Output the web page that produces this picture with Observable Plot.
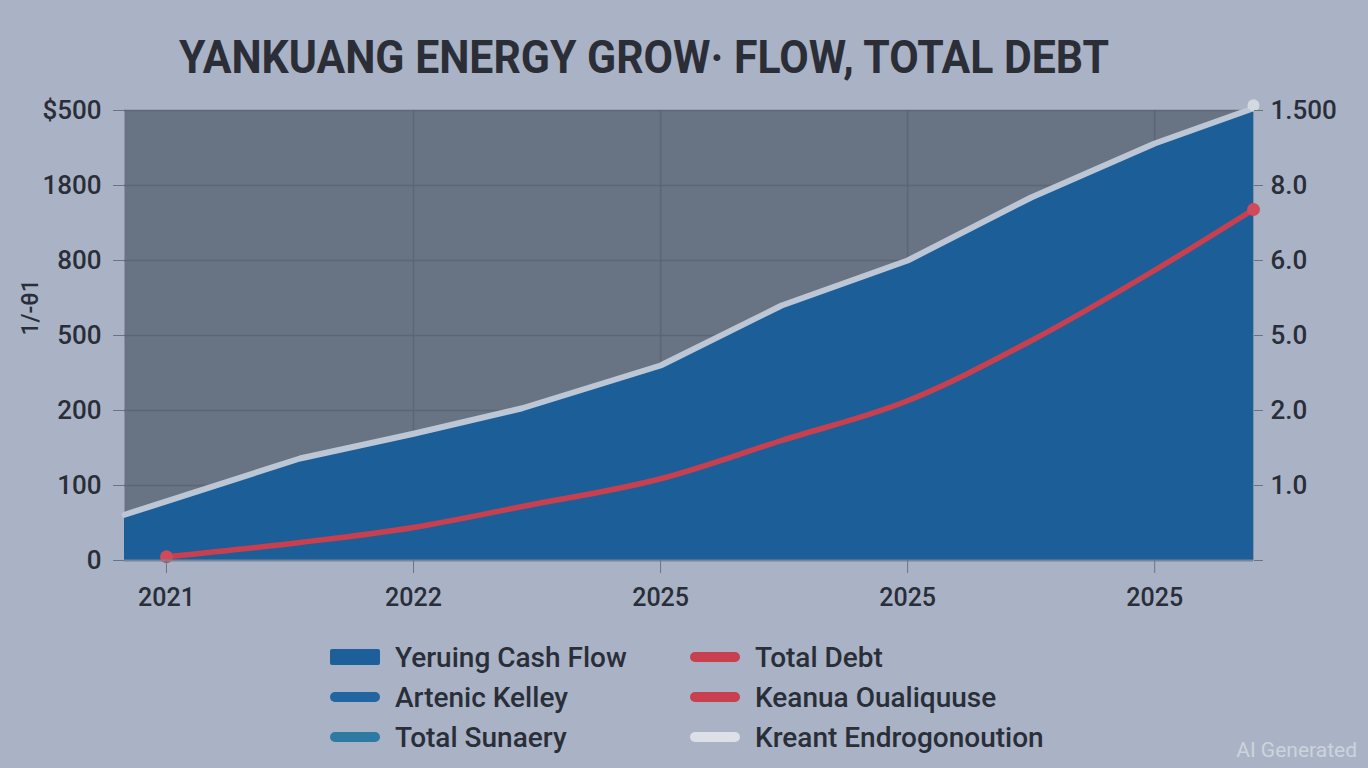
<!DOCTYPE html>
<html>
<head>
<meta charset="utf-8">
<script src="https://cdn.jsdelivr.net/npm/d3@7"></script>
<script src="https://cdn.jsdelivr.net/npm/@observablehq/plot@0.6"></script>
<style>
  html, body { margin: 0; padding: 0; background: #a9b3c5; }
  #page { position: relative; width: 1368px; height: 768px; overflow: hidden; background: #a9b3c5; font-family: Roboto, "Liberation Sans", sans-serif; color: #2a2e38; }
  #title { display: block; width: 1368px; height: 90px; }
  #chart svg { display: block; }
  #legend { position: relative; width: 1368px; height: 148px; }
  .item { position: absolute; display: flex; align-items: center; height: 40px; font-size: 28px; font-weight: 500; white-space: nowrap; }
  .sw { width: 50px; margin-right: 15px; border-radius: 6px; }
  #wm { position: absolute; right: 11px; bottom: 6px; font-size: 21px; color: #cdd3dc; font-family: Roboto, sans-serif; }
</style>
</head>
<body>
<div id="page">
  <svg id="title" width="1368" height="90"></svg>
  <div id="chart"></div>
  <div id="legend"></div>
  <div id="wm">AI Generated</div>
</div>
<script>
// ---- data ----
const titleText = "YANKUANG ENERGY GROW\u00B7 FLOW, TOTAL DEBT";
const yAxisLabel = "1/-\u03B81";
const xTickPos = [0, 1, 2, 3, 4];
const xTickLabels = ["2021", "2022", "2025", "2025", "2025"];
const leftTickPos = [0, 1, 2, 3, 4, 5, 6];
const leftTickLabels = ["0", "100", "200", "500", "800", "1800", "$500"];
const rightTickPos = [0, 1, 2, 3, 4, 5, 6];
const rightTickLabels = ["", "1.0", "2.0", "5.0", "6.0", "8.0", "1.500"];
const cashX = [-0.17, 0.54, 1, 1.44, 2, 2.49, 3, 3.5, 4, 4.4];
const cashFlow = [0.61, 1.36, 1.69, 2.03, 2.6, 3.4, 4.0, 4.84, 5.56, 6.03];
const debtX = [0, 0.54, 1, 1.44, 2, 2.49, 3, 3.5, 4, 4.4];
const totalDebt = [0.05, 0.24, 0.44, 0.72, 1.09, 1.6, 2.13, 2.93, 3.87, 4.68];
const legendNames = ["Yeruing Cash Flow", "Artenic Kelley", "Total Sunaery", "Total Debt", "Keanua Oualiquuse", "Kreant Endrogonoution"];
const legendColors = ["#1d5f98", "#2265a0", "#2f7aa2", "#c8404f", "#c8404f", "#dde0e7"];

// ---- colours ----
const C = { bg: "#a9b3c5", plot: "#687383", grid: "#5b6575", blue: "#1c5f98", white: "#bcc6d5", red: "#c8404f", text: "#2a2e38", tick: "#6b7484" };

// title
const ts = d3.select("#title");
ts.append("text").attr("x", 644).attr("y", 73).attr("text-anchor", "middle")
  .attr("font-family", "Roboto, sans-serif").attr("font-weight", 700).attr("font-size", 46)
  .attr("fill", "#2b2e37").attr("textLength", 930).attr("lengthAdjust", "spacingAndGlyphs")
  .text(titleText);

const cash = cashX.map((x, i) => ({x, y: cashFlow[i]}));
const debt = debtX.map((x, i) => ({x, y: totalDebt[i]}));

const chart = Plot.plot({
  width: 1368,
  height: 530,
  marginTop: 20,
  marginBottom: 60,
  marginLeft: 124,
  marginRight: 115,
  style: { background: "transparent", fontFamily: "Roboto, sans-serif", fontWeight: 500, overflow: "visible" },
  x: { domain: [-0.17, 4.4], axis: null },
  y: { domain: [0, 6], axis: null },
  marks: [
    Plot.frame({ fill: C.plot, stroke: "none" }),
    Plot.gridY(leftTickPos.slice(1), { stroke: C.grid, strokeOpacity: 0.9, strokeWidth: 1.5 }),
    Plot.gridX(xTickPos.slice(1), { stroke: C.grid, strokeOpacity: 0.9, strokeWidth: 1.5 }),
    Plot.areaY(cash, { x: "x", y: "y", fill: C.blue }),
    Plot.lineY(cash, { x: "x", y: "y", stroke: C.white, strokeWidth: 6 }),
    Plot.dot(cash.slice(-1), { x: "x", y: "y", r: 6, fill: "#d3d8e1", dy: -3 }),
    Plot.lineY(debt, { x: "x", y: "y", stroke: C.red, strokeWidth: 5.5, curve: "monotone-x" }),
    Plot.dot([debt[0], debt[debt.length - 1]], { x: "x", y: "y", r: 6.5, fill: "#d04a59" }),
    Plot.ruleY([0], { stroke: "#7a8494", strokeWidth: 2 }),
    Plot.axisY(leftTickPos, { anchor: "left", label: null, tickFormat: i => leftTickLabels[i], tickSize: 11, tickPadding: 12, fontSize: 26, stroke: C.tick, fill: C.text }),
    Plot.axisY(rightTickPos, { anchor: "right", label: null, tickFormat: i => rightTickLabels[i], tickSize: 9, tickPadding: 8, fontSize: 26, stroke: C.tick, fill: C.text }),
    Plot.axisX(xTickPos, { anchor: "bottom", label: null, tickFormat: i => xTickLabels[i], tickSize: 13, tickPadding: 15, fontSize: 25, stroke: C.tick, fill: C.text }),
    Plot.text([yAxisLabel], { frameAnchor: "left", dx: -94, rotate: -90, fontSize: 23, fill: C.text, text: d => d })
  ]
});
document.getElementById("chart").appendChild(chart);

// legend
const lg = d3.select("#legend");
legendNames.forEach((name, i) => {
  const col = Math.floor(i / 3), row = i % 3;
  const it = lg.append("div").attr("class", "item")
    .style("left", (col === 0 ? 330 : 690) + "px")
    .style("top", (17 + row * 40) + "px");
  it.append("div").attr("class", "sw")
    .style("height", i === 0 ? "16px" : "10px")
    .style("border-radius", i === 0 ? "2px" : "6px")
    .style("background", legendColors[i]);
  it.append("span").text(name);
});
</script>
</body>
</html>
